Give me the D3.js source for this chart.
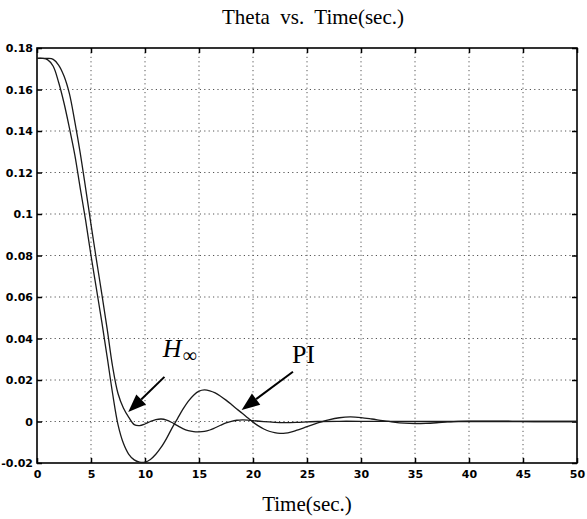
<html>
  <head>
    <script src="https://d3js.org/d3.v7.min.js"></script>
    <style>
      body { margin: 0; background: #fff; }
      .serif { font-family: "Liberation Serif", "Times New Roman", serif; }
    </style>
  </head>
  <body>
    <div id="chart"></div>
    <script>
      // time samples (sec.) and theta values
      var piTime = [0, 0.5, 1, 1.5, 2, 2.5, 3, 3.5, 4, 4.5, 5, 5.5, 6, 6.5, 7, 7.5, 8, 8.5, 9, 9.5, 10,
        10.5, 11, 11.5, 12, 12.5, 13, 13.5, 14, 14.5, 15, 15.5, 16, 16.5, 17, 17.5, 18, 18.5, 19, 19.5, 20,
        20.5, 21, 21.5, 22, 22.5, 23, 23.5, 24, 25, 26, 26.5, 27, 28, 29, 30, 31, 32, 33, 34, 35, 36, 37, 38,
        39, 40, 42, 44, 46, 50];
      var piTheta = [0.175, 0.175, 0.1743, 0.1712, 0.1635, 0.1535, 0.1415, 0.1285, 0.1125, 0.097, 0.080,
        0.064, 0.048, 0.031, 0.0135, -0.0015, -0.0105, -0.0158, -0.0185, -0.0196, -0.0196,
        -0.0183, -0.0158, -0.0124, -0.0081, -0.0032, 0.0013, 0.0058, 0.0097, 0.0127, 0.0146, 0.0152, 0.0148,
        0.0138, 0.0122, 0.0103, 0.0082, 0.006, 0.0040, 0.0018, -0.0003,
        -0.0021, -0.0036, -0.0047, -0.0054, -0.0057, -0.0056, -0.0051, -0.0043, -0.0025, -0.0007, 0.0001,
        0.0008, 0.0018, 0.0022, 0.0019, 0.0012, 0.0004, -0.0003, -0.0008, -0.001, -0.0009, -0.0006, -0.0002,
        0.0001, 0.0002, 0.0002, 0.0001, 0, 0];

      var hinfTime = [0, 0.5, 1, 1.5, 2, 2.5, 3, 3.5, 4, 4.5, 5, 5.5, 6, 6.5, 7, 7.5, 8, 8.5, 9, 9.5, 10,
        10.5, 11, 11.5, 12, 12.5, 13, 13.5, 14, 14.5, 15, 15.5, 16, 16.5, 17, 17.5, 18, 18.5, 19, 19.5, 20,
        21, 22, 23, 24, 25, 26, 28, 30, 35, 40, 50];
      var hinfTheta = [0.175, 0.175, 0.175, 0.1745, 0.1718, 0.1665, 0.158, 0.1445, 0.1295, 0.1125, 0.095,
        0.078, 0.0615, 0.0445, 0.0265, 0.0135, 0.0065, 0.002, -0.0015, -0.002, -0.0012,
        0, 0.0009, 0.0012, 0.0007, -0.0005, -0.002, -0.0034, -0.0044, -0.0049, -0.005, -0.0048, -0.0041,
        -0.003, -0.0018, -0.0007, 0.0001, 0.0006, 0.0008, 0.0007, 0.0004,
        -0.0001, -0.0004, -0.0005, -0.0004, -0.0002, 0, 0.0001, 0.0001, 0, 0, 0];

      var xTicks = [0, 5, 10, 15, 20, 25, 30, 35, 40, 45, 50];
      var yTicks = [-0.02, 0, 0.02, 0.04, 0.06, 0.08, 0.1, 0.12, 0.14, 0.16, 0.18];

      // arrows: [from t, from theta, to t, to theta]
      var hinfArrow = [11.8, 0.0215, 8.45, 0.0046];
      var piArrow = [23.7, 0.0240, 18.95, 0.0056];

      var W = 587, H = 519;
      var margin = {top: 48, right: 10, bottom: 56, left: 37},
        width = W - margin.left - margin.right,
        height = H - margin.top - margin.bottom;

      var svg = d3.select("#chart")
        .append("svg")
          .attr("width", W)
          .attr("height", H);

      var g = svg.append("g")
        .attr("transform", "translate(" + margin.left + "," + margin.top + ")");

      var x = d3.scaleLinear().domain([0, 50]).range([0, width]);
      var y = d3.scaleLinear().domain([-0.02, 0.18]).range([height, 0]);

      // dotted grid
      g.append("g").selectAll("line")
        .data(xTicks.slice(1, -1))
        .enter().append("line")
          .attr("x1", d => x(d)).attr("x2", d => x(d))
          .attr("y1", 0).attr("y2", height)
          .attr("stroke", "#555").attr("stroke-width", 1)
          .attr("stroke-dasharray", "1.2,3.2");
      g.append("g").selectAll("line")
        .data(yTicks.slice(1, -1))
        .enter().append("line")
          .attr("x1", 0).attr("x2", width)
          .attr("y1", d => y(d)).attr("y2", d => y(d))
          .attr("stroke", "#555").attr("stroke-width", 1)
          .attr("stroke-dasharray", "1.2,3.2");

      // axes with inward ticks
      var fmt = d => String(+d.toFixed(2));
      var xAxis = g.append("g")
        .attr("transform", "translate(0," + height + ")")
        .call(d3.axisBottom(x).tickValues(xTicks).tickFormat(fmt).tickSizeInner(-5).tickSizeOuter(0).tickPadding(7));
      g.append("g")
        .call(d3.axisTop(x).tickValues(xTicks).tickFormat("").tickSizeInner(-5).tickSizeOuter(0));
      var yAxis = g.append("g")
        .call(d3.axisLeft(y).tickValues(yTicks).tickFormat(fmt).tickSizeInner(-5).tickSizeOuter(0).tickPadding(4));
      g.append("g")
        .attr("transform", "translate(" + width + ",0)")
        .call(d3.axisRight(y).tickValues(yTicks).tickFormat("").tickSizeInner(-5).tickSizeOuter(0));

      g.selectAll(".domain").remove();
      g.selectAll(".tick line").attr("stroke", "#000").attr("stroke-width", 1.5);
      [xAxis, yAxis].forEach(function(a) {
        a.attr("font-family", "'DejaVu Sans', sans-serif")
          .attr("font-size", 11)
          .attr("font-weight", "bold");
        a.selectAll(".tick text")
          .attr("fill", "#000")
          .style("font-weight", "700")
          .style("font-size", "11px");
      });

      // box
      g.append("rect")
        .attr("x", 0).attr("y", 0)
        .attr("width", width).attr("height", height)
        .attr("fill", "none").attr("stroke", "#000").attr("stroke-width", 1.6);

      // curves
      var line = d3.line()
        .x(d => x(d[0]))
        .y(d => y(d[1]))
        .curve(d3.curveCatmullRom.alpha(0.5));

      g.append("path")
        .datum(d3.zip(piTime, piTheta))
        .attr("fill", "none").attr("stroke", "#1a1a1a").attr("stroke-width", 1.3)
        .attr("d", line);
      g.append("path")
        .datum(d3.zip(hinfTime, hinfTheta))
        .attr("fill", "none").attr("stroke", "#1a1a1a").attr("stroke-width", 1.3)
        .attr("d", line);

      // arrows
      function drawArrow(a) {
        var x1 = x(a[0]), y1 = y(a[1]), x2 = x(a[2]), y2 = y(a[3]);
        var ang = Math.atan2(y2 - y1, x2 - x1);
        var len = 18, half = 7;
        var bx = x2 - len * Math.cos(ang), by = y2 - len * Math.sin(ang);
        g.append("line")
          .attr("x1", x1).attr("y1", y1).attr("x2", bx).attr("y2", by)
          .attr("stroke", "#000").attr("stroke-width", 2);
        var pts = [
          [x2, y2],
          [bx + half * Math.sin(ang), by - half * Math.cos(ang)],
          [bx - half * Math.sin(ang), by + half * Math.cos(ang)]
        ];
        g.append("polygon")
          .attr("points", pts.map(p => p.join(",")).join(" "))
          .attr("fill", "#000");
      }
      drawArrow(hinfArrow);
      drawArrow(piArrow);

      // annotations
      var hLabel = g.append("text")
        .attr("class", "serif")
        .attr("x", x(11.65)).attr("y", y(0.031))
        .style("font-size", "26px");
      hLabel.append("tspan").style("font-style", "italic").text("H");
      hLabel.append("tspan").attr("dx", 1).attr("dy", 5).style("font-size", "20px").text("\u221E");

      g.append("text")
        .attr("class", "serif")
        .attr("x", x(23.6)).attr("y", y(0.0283))
        .style("font-size", "26px")
        .text("PI");

      // title and x label
      svg.append("text")
        .attr("class", "serif")
        .attr("x", 313).attr("y", 24)
        .attr("text-anchor", "middle")
        .style("font-size", "21px")
        .style("white-space", "pre")
        .text("Theta  vs.  Time(sec.)");

      svg.append("text")
        .attr("class", "serif")
        .attr("x", margin.left + width / 2).attr("y", 511)
        .attr("text-anchor", "middle")
        .style("font-size", "21px")
        .text("Time(sec.)");
    </script>
  </body>
</html>
